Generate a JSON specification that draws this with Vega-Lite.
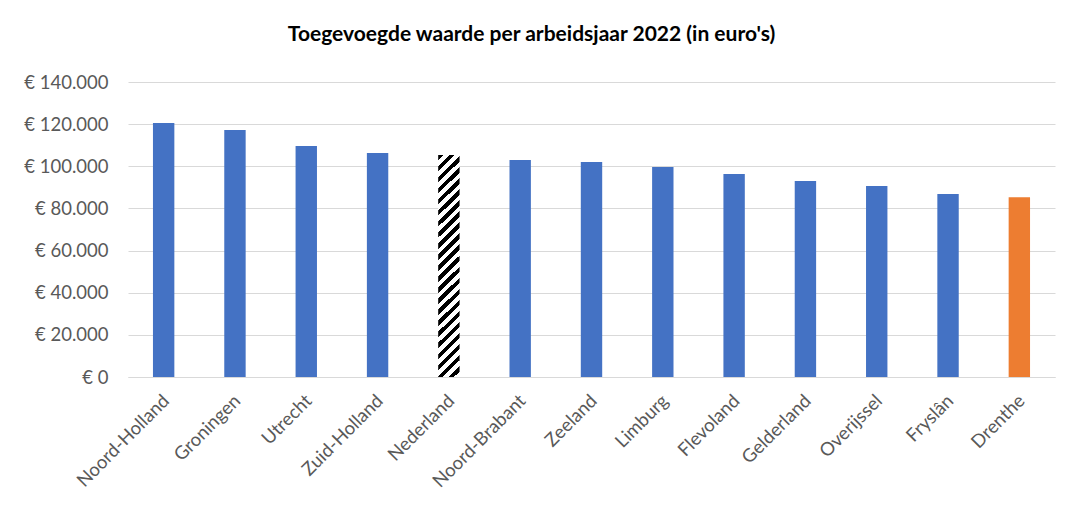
{
  "$schema": "https://vega.github.io/schema/vega-lite/v6.json",
  "width": 927,
  "height": 295,
  "autosize": "none",
  "padding": {"left": 128, "top": 82, "right": 22, "bottom": 135},
  "background": "white",
  "title": {
    "text": "Toegevoegde waarde per arbeidsjaar 2022 (in euro's)",
    "font": "Lato",
    "fontSize": 21,
    "fontWeight": "bold",
    "color": "#000000",
    "anchor": "middle",
    "dx": -60,
    "offset": 28
  },
  "config": {
    "locale": {"number": {"decimal": ",", "thousands": ".", "grouping": [3], "currency": ["€ ", ""]}},
    "view": {"stroke": null},
    "axis": {"labelFont": "Lato", "labelFontSize": 18.5, "labelColor": "#595959", "titleFont": "Lato"}
  },
  "data": {
    "values": [
      {"regio": "Noord-Holland", "waarde": 120500},
      {"regio": "Groningen", "waarde": 117200},
      {"regio": "Utrecht", "waarde": 109600},
      {"regio": "Zuid-Holland", "waarde": 106300},
      {"regio": "Nederland", "waarde": 105400},
      {"regio": "Noord-Brabant", "waarde": 103000},
      {"regio": "Zeeland", "waarde": 102000},
      {"regio": "Limburg", "waarde": 99700},
      {"regio": "Flevoland", "waarde": 96300},
      {"regio": "Gelderland", "waarde": 93000},
      {"regio": "Overijssel", "waarde": 90600},
      {"regio": "Fryslân", "waarde": 86900},
      {"regio": "Drenthe", "waarde": 85300}
    ]
  },
  "mark": {"type": "bar"},
  "encoding": {
    "x": {
      "field": "regio",
      "type": "nominal",
      "sort": null,
      "scale": {"paddingInner": 0.7, "paddingOuter": 0.35},
      "axis": {"title": null, "labelAngle": -45, "labelPadding": 14, "labelOffset": -4, "ticks": false, "domain": true, "domainColor": "#D9D9D9", "grid": false}
    },
    "y": {
      "field": "waarde",
      "type": "quantitative",
      "scale": {"domain": [0, 140000], "nice": false},
      "axis": {"title": null, "values": [0, 20000, 40000, 60000, 80000, 100000, 120000, 140000], "format": "$,.0f", "ticks": false, "domain": false, "labelPadding": 20, "gridColor": "#D9D9D9", "gridWidth": 1}
    },
    "color": {
      "condition": [
        {"test": "datum.regio === 'Nederland'", "value": {
          "gradient": "linear", "x1": 0, "y1": 0, "x2": 0.1026, "y2": 1.0849,
          "stops": [
            {"offset": 0, "color": "#000"},
            {"offset": 0.0227, "color": "#000"}, {"offset": 0.0227, "color": "#fff"},
            {"offset": 0.0455, "color": "#fff"}, {"offset": 0.0455, "color": "#000"},
            {"offset": 0.0682, "color": "#000"}, {"offset": 0.0682, "color": "#fff"},
            {"offset": 0.0909, "color": "#fff"}, {"offset": 0.0909, "color": "#000"},
            {"offset": 0.1136, "color": "#000"}, {"offset": 0.1136, "color": "#fff"},
            {"offset": 0.1364, "color": "#fff"}, {"offset": 0.1364, "color": "#000"},
            {"offset": 0.1591, "color": "#000"}, {"offset": 0.1591, "color": "#fff"},
            {"offset": 0.1818, "color": "#fff"}, {"offset": 0.1818, "color": "#000"},
            {"offset": 0.2045, "color": "#000"}, {"offset": 0.2045, "color": "#fff"},
            {"offset": 0.2273, "color": "#fff"}, {"offset": 0.2273, "color": "#000"},
            {"offset": 0.25, "color": "#000"}, {"offset": 0.25, "color": "#fff"},
            {"offset": 0.2727, "color": "#fff"}, {"offset": 0.2727, "color": "#000"},
            {"offset": 0.2955, "color": "#000"}, {"offset": 0.2955, "color": "#fff"},
            {"offset": 0.3182, "color": "#fff"}, {"offset": 0.3182, "color": "#000"},
            {"offset": 0.3409, "color": "#000"}, {"offset": 0.3409, "color": "#fff"},
            {"offset": 0.3636, "color": "#fff"}, {"offset": 0.3636, "color": "#000"},
            {"offset": 0.3864, "color": "#000"}, {"offset": 0.3864, "color": "#fff"},
            {"offset": 0.4091, "color": "#fff"}, {"offset": 0.4091, "color": "#000"},
            {"offset": 0.4318, "color": "#000"}, {"offset": 0.4318, "color": "#fff"},
            {"offset": 0.4545, "color": "#fff"}, {"offset": 0.4545, "color": "#000"},
            {"offset": 0.4773, "color": "#000"}, {"offset": 0.4773, "color": "#fff"},
            {"offset": 0.5, "color": "#fff"}, {"offset": 0.5, "color": "#000"},
            {"offset": 0.5227, "color": "#000"}, {"offset": 0.5227, "color": "#fff"},
            {"offset": 0.5455, "color": "#fff"}, {"offset": 0.5455, "color": "#000"},
            {"offset": 0.5682, "color": "#000"}, {"offset": 0.5682, "color": "#fff"},
            {"offset": 0.5909, "color": "#fff"}, {"offset": 0.5909, "color": "#000"},
            {"offset": 0.6136, "color": "#000"}, {"offset": 0.6136, "color": "#fff"},
            {"offset": 0.6364, "color": "#fff"}, {"offset": 0.6364, "color": "#000"},
            {"offset": 0.6591, "color": "#000"}, {"offset": 0.6591, "color": "#fff"},
            {"offset": 0.6818, "color": "#fff"}, {"offset": 0.6818, "color": "#000"},
            {"offset": 0.7045, "color": "#000"}, {"offset": 0.7045, "color": "#fff"},
            {"offset": 0.7273, "color": "#fff"}, {"offset": 0.7273, "color": "#000"},
            {"offset": 0.75, "color": "#000"}, {"offset": 0.75, "color": "#fff"},
            {"offset": 0.7727, "color": "#fff"}, {"offset": 0.7727, "color": "#000"},
            {"offset": 0.7955, "color": "#000"}, {"offset": 0.7955, "color": "#fff"},
            {"offset": 0.8182, "color": "#fff"}, {"offset": 0.8182, "color": "#000"},
            {"offset": 0.8409, "color": "#000"}, {"offset": 0.8409, "color": "#fff"},
            {"offset": 0.8636, "color": "#fff"}, {"offset": 0.8636, "color": "#000"},
            {"offset": 0.8864, "color": "#000"}, {"offset": 0.8864, "color": "#fff"},
            {"offset": 0.9091, "color": "#fff"}, {"offset": 0.9091, "color": "#000"},
            {"offset": 0.9318, "color": "#000"}, {"offset": 0.9318, "color": "#fff"},
            {"offset": 0.9545, "color": "#fff"}, {"offset": 0.9545, "color": "#000"},
            {"offset": 0.9773, "color": "#000"}, {"offset": 0.9773, "color": "#fff"},
            {"offset": 1, "color": "#fff"}
          ]
        }},
        {"test": "datum.regio === 'Drenthe'", "value": "#ED7D31"}
      ],
      "value": "#4472C4"
    }
  }
}
